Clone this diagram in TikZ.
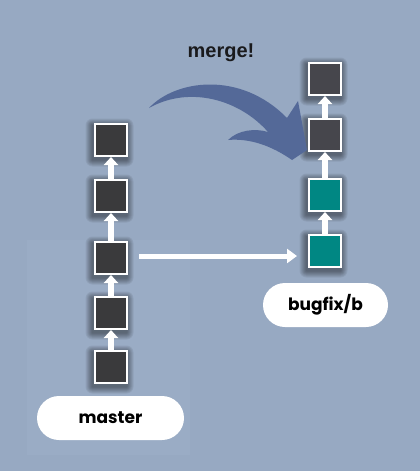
\documentclass[tikz,border=0pt]{standalone}
\usepackage{fontspec}
\setmainfont{Liberation Sans}
\newfontfamily\pillfont{Poppins}
\usetikzlibrary{arrows.meta,calc}
\definecolor{bgc}{RGB}{151,169,194}
\definecolor{panelc}{RGB}{154,172,197}
\definecolor{darkc}{RGB}{58,58,60}
\definecolor{darkb}{RGB}{70,70,76}
\definecolor{tealc}{RGB}{0,135,131}
\definecolor{bluearrow}{RGB}{84,105,152}
\definecolor{mergetext}{RGB}{26,26,28}
\tikzset{
  commit/.style={draw=white, line width=2pt, minimum size=32pt, inner sep=0pt},
  uparrow/.style={draw=white, line width=5.5pt, -{Triangle[width=14pt,length=8pt]}},
  sidearrow/.style={draw=white, line width=5pt, -{Triangle[width=14pt,length=10pt]}, shorten <=11pt, shorten >=11pt},
  pill/.style={fill=white, rounded corners=22pt, minimum height=44pt, inner sep=0pt, font=\pillfont\bfseries\fontsize{17}{17}\selectfont},
}
\newcommand\glowsq[2]{%
  \foreach \s in {1,...,7}{%
    \fill[black, opacity=0.065, rounded corners=\s pt] ($(#1,#2)+(-17-\s-1.5,-17-\s+2.5)$) rectangle ($(#1,#2)+(17+\s-1.5,17+\s+2.5)$);}%
}
\begin{document}
\begin{tikzpicture}[x=1pt, y=-1pt]
\useasboundingbox (0,0) rectangle (420,471);
\fill[bgc] (0,0) rectangle (420,471);
\fill[panelc] (27,240) rectangle (190,455);
% shadows
\glowsq{111}{140}\glowsq{111}{196}\glowsq{111}{258}\glowsq{111}{313}\glowsq{111}{367}
\glowsq{325}{79}\glowsq{325}{135}\glowsq{325}{195}\glowsq{325}{251}
% master commits
\node[commit, fill=darkc] (m1) at (111,367) {};
\node[commit, fill=darkc] (m2) at (111,313) {};
\node[commit, fill=darkc] (m3) at (111,258) {};
\node[commit, fill=darkc] (m4) at (111,196) {};
\node[commit, fill=darkc] (m5) at (111,140) {};
% bugfix commits
\node[commit, fill=tealc] (b1) at (325,251) {};
\node[commit, fill=tealc] (b2) at (325,195) {};
\node[commit, fill=darkb] (b3) at (325,135) {};
\node[commit, fill=darkb] (b4) at (325,79) {};
% arrows
\draw[uparrow] (m1.north) -- (m2.south);
\draw[uparrow] (m2.north) -- (m3.south);
\draw[uparrow] (m3.north) -- (m4.south);
\draw[uparrow] (m4.north) -- (m5.south);
\draw[uparrow] (b1.north) -- (b2.south);
\draw[uparrow] (b2.north) -- (b3.south);
\draw[uparrow] (b3.north) -- (b4.south);
\coordinate (hs) at ($(m3.east)+(0,-2)$);
\draw[sidearrow] (hs) -- (hs -| b1.west);
% labels
\node[pill, minimum width=147pt] (master) at (110.5,418) {master};
\node[pill, minimum width=125pt] (bugfix) at (325.5,305) {bugfix/b};
\node[font=\bfseries\fontsize{20}{20}\selectfont, text=mergetext] (merge) at (221,53) {merge!};
% curved merge arrow
\fill[bluearrow] (149,108) .. controls (175,80) and (240,70) .. (287,118)
  -- (298,101) -- (307,150) -- (292,160)
  .. controls (272,146) and (250,138) .. (228,140)
  .. controls (238,130) and (255,128) .. (268,132)
  .. controls (240,100) and (190,85) .. cycle;
\end{tikzpicture}
\end{document}
